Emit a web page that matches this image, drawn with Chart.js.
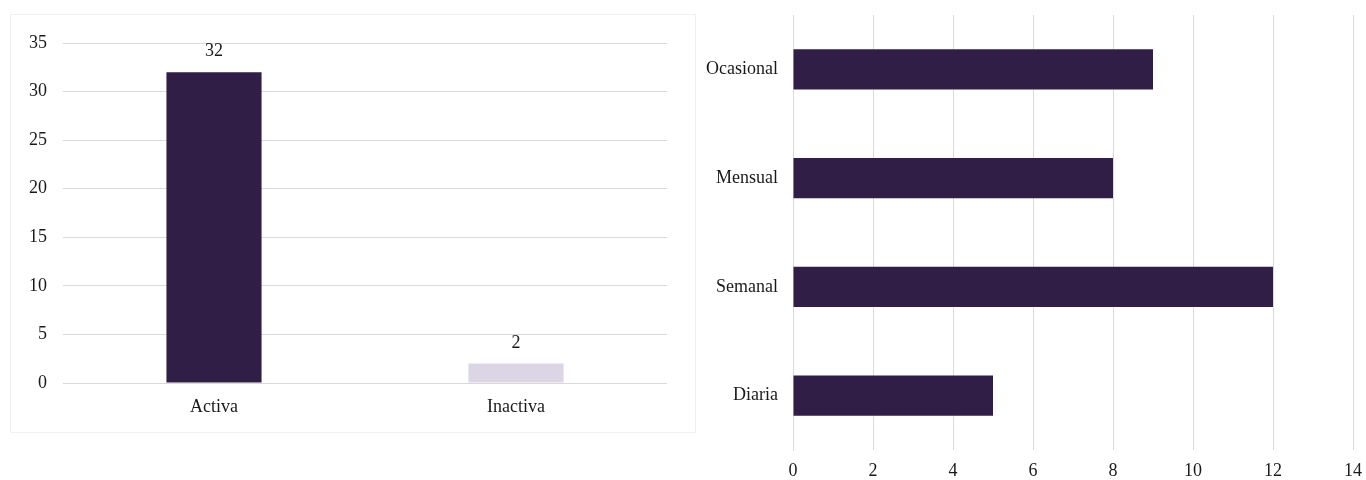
<!DOCTYPE html>
<html>
<head>
<meta charset="utf-8">
<script src="https://cdn.jsdelivr.net/npm/chart.js@4.4.1/dist/chart.umd.min.js"></script>
<style>
  html, body { margin: 0; padding: 0; background: #fff; }
  body { width: 1366px; height: 480px; position: relative; overflow: hidden; }
  #leftBox { position: absolute; left: 10px; top: 14px; width: 684px; height: 417px; border: 1px solid #f0f0f0; }
  #rightBox { position: absolute; left: 700px; top: 0; width: 666px; height: 480px; }
</style>
</head>
<body>
<div id="leftBox"><canvas id="statusChart"></canvas></div>
<div id="rightBox"><canvas id="freqChart"></canvas></div>
<script>
// Left chart: estado
const statusLabels = ["Activa", "Inactiva"];
const statusValues = [32, 2];
const statusColors = ["#311e47", "#dcd5e6"];

// Right chart: frecuencia
const freqLabels = ["Ocasional", "Mensual", "Semanal", "Diaria"];
const freqValues = [9, 8, 12, 5];

const fontFamily = "'Liberation Serif', 'Times New Roman', serif";
const textColor = "#1a1a1a";
const gridColor = "#d9d9d9";

Chart.defaults.font.family = fontFamily;
Chart.defaults.font.size = 18;
Chart.defaults.color = textColor;

// simple value labels above bars
const valueLabels = {
  id: "valueLabels",
  afterDatasetsDraw(chart) {
    const ctx = chart.ctx;
    const meta = chart.getDatasetMeta(0);
    ctx.save();
    ctx.font = "18px " + fontFamily;
    ctx.fillStyle = textColor;
    ctx.textAlign = "center";
    ctx.textBaseline = "alphabetic";
    meta.data.forEach((bar, i) => {
      ctx.fillText(String(chart.data.datasets[0].data[i]), bar.x, bar.y - 16);
    });
    ctx.restore();
  }
};

new Chart(document.getElementById("statusChart"), {
  type: "bar",
  data: {
    labels: statusLabels,
    datasets: [{
      data: statusValues,
      backgroundColor: statusColors,
      categoryPercentage: 1,
      barPercentage: 0.315
    }]
  },
  options: {
    responsive: true,
    maintainAspectRatio: false,
    animation: false,
    layout: { padding: { left: 0, right: 28, top: 28, bottom: 0 } },
    plugins: { legend: { display: false }, tooltip: { enabled: false } },
    scales: {
      x: {
        grid: { display: false, drawTicks: false },
        border: { display: false },
        ticks: { padding: 13 },
        afterFit: (s) => { s.height = 49; }
      },
      y: {
        min: 0,
        max: 35,
        ticks: { stepSize: 5, padding: 16 },
        grid: { color: gridColor, drawTicks: false },
        border: { display: false },
        afterFit: (s) => { s.width = 52; }
      }
    }
  },
  plugins: [valueLabels]
});

new Chart(document.getElementById("freqChart"), {
  type: "bar",
  data: {
    labels: freqLabels,
    datasets: [{
      data: freqValues,
      backgroundColor: "#311e47",
      categoryPercentage: 1,
      barPercentage: 0.37
    }]
  },
  options: {
    indexAxis: "y",
    responsive: true,
    maintainAspectRatio: false,
    animation: false,
    layout: { padding: { left: 0, right: 13, top: 15, bottom: 0 } },
    plugins: { legend: { display: false }, tooltip: { enabled: false } },
    scales: {
      x: {
        min: 0,
        max: 14,
        ticks: { stepSize: 2, padding: 10 },
        grid: { color: gridColor, drawTicks: false },
        border: { display: false },
        afterFit: (s) => { s.height = 30; s.paddingLeft = 0; s.paddingRight = 0; }
      },
      y: {
        grid: { display: false, drawTicks: false },
        border: { display: true, color: gridColor },
        ticks: { padding: 15 },
        afterFit: (s) => { s.width = 93; s.paddingTop = 0; s.paddingBottom = 0; }
      }
    }
  }
});
</script>
</body>
</html>
